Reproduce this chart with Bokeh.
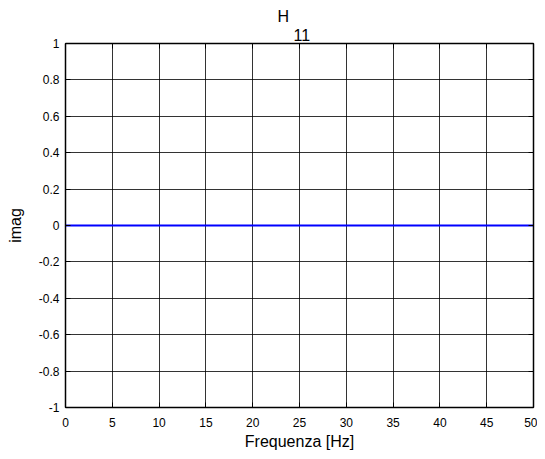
from bokeh.plotting import figure
from bokeh.models import LinearAxis, FixedTicker, Range1d, Title
from bokeh.embed import file_html
from bokeh.resources import INLINE

# Data
freq = [0, 5, 10, 15, 20, 25, 30, 35, 40, 45, 50]
imag = [0, 0, 0, 0, 0, 0, 0, 0, 0, 0, 0]

x_ticks = [0, 5, 10, 15, 20, 25, 30, 35, 40, 45, 50]
x_tick_labels = ["0", "5", "10", "15", "20", "25", "30", "35", "40", "45", "50"]
y_ticks = [-1, -0.8, -0.6, -0.4, -0.2, 0, 0.2, 0.4, 0.6, 0.8, 1]
y_tick_labels = ["-1", "-0.8", "-0.6", "-0.4", "-0.2", "0", "0.2", "0.4", "0.6", "0.8", "1"]

title_main = "H"
title_sub = "11"
x_label = "Frequenza [Hz]"
y_label = "imag"

FONT = "Liberation Sans"

p = figure(
    frame_width=468, frame_height=364,
    output_backend="svg", toolbar_location=None,
    x_range=Range1d(0, 50), y_range=Range1d(-1, 1),
    min_border_left=65, min_border_right=4, min_border_top=43, min_border_bottom=44,
    background_fill_color="white", border_fill_color="white",
)
p.outline_line_color = "black"
p.outline_line_width = 1

p.title.text = title_main
p.title.text_font = FONT
p.title.text_font_size = "16px"
p.title.text_font_style = "normal"
p.title.text_color = "black"
p.title.align = "left"
p.title.offset = 212
p.title.standoff = 0

p.line(freq, imag, line_color="#0000ff", line_width=2)

def style_axis(ax, ticks, labels, show_labels=True):
    ax.ticker = FixedTicker(ticks=ticks)
    ax.major_label_overrides = {t: l for t, l in zip(ticks, labels)}
    ax.major_tick_in = 5
    ax.major_tick_out = 0
    ax.minor_tick_line_color = None
    ax.axis_line_color = "black"
    ax.axis_line_width = 1.5
    ax.major_tick_line_color = "black"
    ax.major_label_text_font = FONT
    ax.major_label_text_font_size = "12px"
    ax.major_label_text_color = "black"
    if not show_labels:
        ax.major_label_text_alpha = 0
        ax.major_label_text_font_size = "1px"

xa = p.xaxis[0]
ya = p.yaxis[0]
style_axis(xa, x_ticks, x_tick_labels)
style_axis(ya, y_ticks, y_tick_labels)
xa.major_label_standoff = 10
ya.major_label_standoff = 6
xa.axis_label = x_label
ya.axis_label = y_label
for ax in (xa, ya):
    ax.axis_label_text_font = FONT
    ax.axis_label_text_font_size = "16px"
    ax.axis_label_text_font_style = "normal"
    ax.axis_label_text_color = "black"
xa.axis_label_standoff = 3
ya.axis_label_standoff = 12

top = LinearAxis()
style_axis(top, x_ticks, x_tick_labels, show_labels=False)
top.major_label_standoff = 0
p.add_layout(top, "above")
right = LinearAxis()
style_axis(right, y_ticks, y_tick_labels, show_labels=False)
right.major_label_standoff = 0
p.add_layout(right, "right")

sub = Title(text=title_sub, text_font=FONT, text_font_size="16px",
            text_font_style="normal", text_color="black", align="left",
            offset=228, standoff=5)
p.add_layout(sub, "above")

p.xgrid.ticker = FixedTicker(ticks=x_ticks)
p.ygrid.ticker = FixedTicker(ticks=y_ticks)
for g in (p.xgrid[0], p.ygrid[0]):
    g.grid_line_color = "black"
    g.grid_line_alpha = 0.8
    g.grid_line_width = 1

open("out.html", "w").write(file_html(p, INLINE))
